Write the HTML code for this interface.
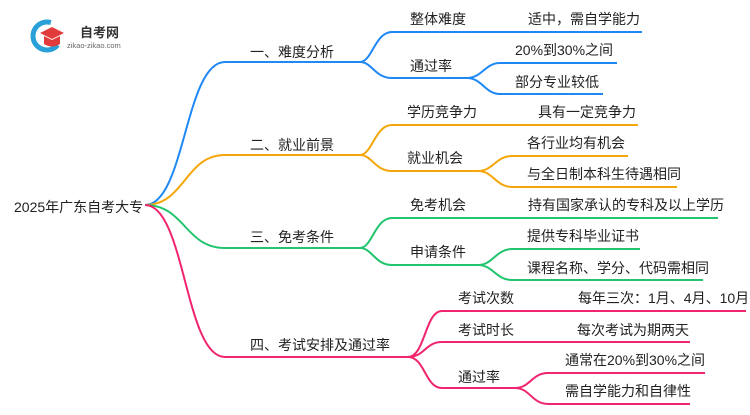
<!DOCTYPE html>
<html><head><meta charset="utf-8"><style>
html,body{margin:0;padding:0;background:#fff;}
svg text{font-family:"Liberation Sans","Noto Sans CJK SC",sans-serif;fill:#222;}
</style></head><body>
<svg width="750" height="410" viewBox="0 0 750 410" xmlns="http://www.w3.org/2000/svg">
<g fill="none" stroke-width="2">
<g stroke="#1f88f5">
<path d="M145,205 C185,205 185,62 225,62 L360,62"/>
<path d="M360,62 C372,62 375,32 392,32 L642,32"/>
<path d="M360,62 C372,62 375,78 392,78 L467,78"/>
<path d="M467,78 C482,78 485,63 500,63 L617,63"/>
<path d="M467,78 C482,78 485,94 500,94 L603,94"/>
</g>
<g stroke="#f5a70a">
<path d="M145,205 C185,205 185,155 225,155 L360,155"/>
<path d="M360,155 C372,155 375,125 392,125 L638,125"/>
<path d="M360,155 C372,155 375,171 392,171 L478,171"/>
<path d="M478,171 C493,171 496,156 512,156 L628,156"/>
<path d="M478,171 C493,171 496,187 512,187 L677,187"/>
</g>
<g stroke="#22c46e">
<path d="M145,205 C185,205 185,248 225,248 L360,248"/>
<path d="M360,248 C372,248 375,218 392,218 L718,218"/>
<path d="M360,248 C372,248 375,265 392,265 L478,265"/>
<path d="M478,265 C493,265 496,249 512,249 L640,249"/>
<path d="M478,265 C493,265 496,280 512,280 L703,280"/>
</g>
<g stroke="#f0246f">
<path d="M145,205 C185,205 185,357 225,357 L408,357"/>
<path d="M408,357 C425,357 425,311 442,311 L746,311"/>
<path d="M408,357 C425,357 425,342 442,342 L690,342"/>
<path d="M408,357 C425,357 425,388 442,388 L515,388"/>
<path d="M515,388 C530,388 532,373 548,373 L705,373"/>
<path d="M515,388 C530,388 532,404 548,404 L690,404"/>
</g>
</g>
<circle cx="47" cy="36" r="14" fill="none" stroke="#2aa0d8" stroke-width="5" stroke-dasharray="60 30" transform="rotate(40 47 36)"/>
<path d="M40,33 L52,27 L64,33 L52,39 Z" fill="#e23b3b"/>
<path d="M44,36 L44,44 Q52,49 60,44 L60,36 L52,40 Z" fill="#e23b3b"/>
<text x="80" y="37" font-size="13" font-weight="bold" style="fill:#333">自考网</text>
<text x="67" y="48" font-size="7.5" style="fill:#666">zikao-zikao.com</text>
<g font-size="14">
<text x="14" y="212">2025年广东自考大专</text>
<text x="250" y="57">一、难度分析</text>
<text x="250" y="150">二、就业前景</text>
<text x="250" y="242">三、免考条件</text>
<text x="250" y="350">四、考试安排及通过率</text>
<text x="410" y="24">整体难度</text>
<text x="528" y="24">适中，需自学能力</text>
<text x="410" y="71">通过率</text>
<text x="515" y="55">20%到30%之间</text>
<text x="515" y="87">部分专业较低</text>
<text x="407" y="117">学历竞争力</text>
<text x="538" y="117">具有一定竞争力</text>
<text x="407" y="163">就业机会</text>
<text x="527" y="148">各行业均有机会</text>
<text x="527" y="179">与全日制本科生待遇相同</text>
<text x="410" y="210">免考机会</text>
<text x="528" y="210">持有国家承认的专科及以上学历</text>
<text x="410" y="257">申请条件</text>
<text x="527" y="241">提供专科毕业证书</text>
<text x="527" y="273">课程名称、学分、代码需相同</text>
<text x="458" y="303">考试次数</text>
<text x="578" y="303">每年三次：1月、4月、10月</text>
<text x="458" y="335">考试时长</text>
<text x="577" y="335">每次考试为期两天</text>
<text x="458" y="382">通过率</text>
<text x="565" y="365">通常在20%到30%之间</text>
<text x="565" y="396">需自学能力和自律性</text>
</g>
</svg>
</body></html>
